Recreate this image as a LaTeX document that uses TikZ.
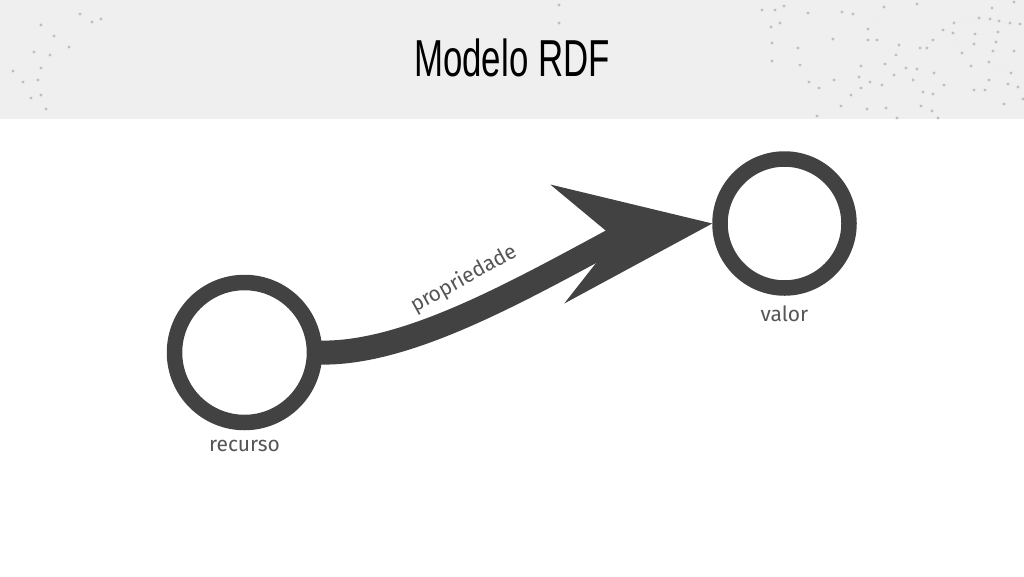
\documentclass[tikz,border=0pt]{standalone}
\usepackage{fontspec}
\setmainfont{Fira Sans}
\newfontfamily\titlefont{Liberation Sans}
\usetikzlibrary{positioning}

\definecolor{rdfgray}{HTML}{424242}
\definecolor{bandgray}{HTML}{EFEFEF}
\definecolor{labelgray}{HTML}{555555}

\begin{document}
\begin{tikzpicture}[
  x=1pt, y=-1pt,
  rdfnode/.style={circle, draw=rdfgray, line width=15.5pt, fill=white, inner sep=0pt},
  rdflabel/.style={text=labelgray, font=\fontsize{21}{24}\selectfont, inner sep=0pt},
  rdfshaft/.style={draw=rdfgray, line width=24pt},
  rdfhead/.style={fill=rdfgray},
  hdrdot/.style={fill=gray!50, draw=none},
  hdrline/.style={draw=gray!14, line width=0.5pt}
]
\useasboundingbox (0,0) rectangle (1024,576);

% Header band
\fill[bandgray] (0,0) rectangle (1024,119);
\foreach \a/\b/\c/\d in {943/30/990/19, 954/23/979/18, 962/53/974/44, 933/40/920/48,
  896/55/899/45, 974/90/989/80, 979/18/1010/23, 993/51/1014/51, 975/34/998/32,
  934/73/971/66, 944/85/974/90, 1008/84/1018/87, 913/80/923/92, 868/29/884/7,
  989/62/1011/73, 921/106/932/111, 1004/104/1023/99, 953/33/962/53}
  \draw[hdrline] (\a,\b) -- (\c,\d);
\foreach \x/\y in {80/14, 92/22, 101/19, 41/25, 54/36, 69/47, 34/52, 50/55, 13/71,
  41/68, 23/82, 38/80, 31/98, 41/95, 46/109, 559/5, 559/23,
  762/10, 775/10, 784/6, 808/13, 842/12, 853/14, 884/7, 917/4, 771/27, 780/23,
  772/43, 798/48, 833/39, 868/29, 868/40, 877/40, 899/45, 896/55, 920/48, 927/48,
  933/40, 943/30, 953/33, 954/23, 979/18, 990/19, 999/21, 1010/23, 1020/24, 992/8,
  1014/2, 998/32, 996/42, 975/34, 974/44, 962/53, 989/62, 993/51, 1014/51, 772/61,
  800/65, 861/66, 885/64, 906/68, 917/69, 934/73, 971/66, 1011/73, 859/77, 870/82,
  882/85, 894/75, 913/80, 834/80, 809/82, 819/88, 861/88, 851/95, 923/92, 933/94,
  944/85, 974/90, 985/90, 989/80, 1008/84, 1018/87, 841/106, 867/109, 886/108,
  921/106, 932/111, 1004/104, 1023/99, 817/116, 897/118, 938/118}
  \fill[hdrdot] (\x,\y) circle[radius=1.6pt];

% Title
\node[font=\titlefont\fontsize{52}{60}\selectfont] (title) at (512,58) {\scalebox{0.67}[1]{Modelo RDF}};

% Resource and value
\node[rdfnode, minimum size=140pt] (recurso) at (244.5,352.5) {};
\node[rdfnode, minimum size=129pt] (valor) at (784.5,223.5) {};
\node[rdflabel, below=10pt of recurso] (recursolbl) {recurso};
\node[rdflabel, below=10pt of valor] (valorlbl) {valor};

% Property arrow
\coordinate (shaftend) at ([shift={(-82,7.5)}]valor.west);
\draw[rdfshaft] ([xshift=-5pt]recurso.east) .. controls +(90,3) and +(-110,59) .. (shaftend);
\fill[rdfhead] (valor.west) -- ++(-162,-39) -- ++(65,54) -- ++(-51,65) -- cycle;
\node[rdflabel, rotate=29] (proplbl) at (464,279) {propriedade};

\end{tikzpicture}
\end{document}
